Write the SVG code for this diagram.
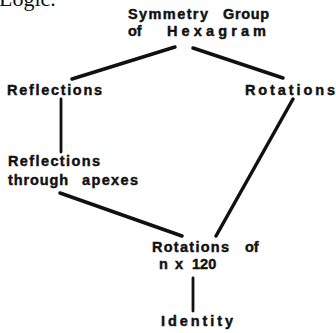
<svg xmlns="http://www.w3.org/2000/svg" width="336" height="333" viewBox="0 0 336 333">
<style>
.t{font-family:"Liberation Sans",Arial,sans-serif;font-weight:bold;font-size:14.5px;fill:#111;stroke:#111;stroke-width:0.45}
.h{font-family:"Liberation Serif","Times New Roman",serif;font-size:22px;fill:#111}
.c line{stroke:#111;stroke-linecap:round}
</style>
<rect width="336" height="333" fill="#fff"/>
<text class="h" x="-1" y="6">Logic.</text>
<g class="c" id="connectors">
<line x1="175" y1="47" x2="72" y2="79" stroke-width="3.5"/>
<line x1="193" y1="48" x2="283" y2="78" stroke-width="3.5"/>
<line x1="61" y1="99" x2="61" y2="152" stroke-width="2.8"/>
<line x1="293" y1="99" x2="216" y2="236" stroke-width="3.5"/>
<line x1="60" y1="193" x2="182" y2="236" stroke-width="3.5"/>
<line x1="193" y1="278" x2="193" y2="311" stroke-width="2.8"/>
</g>
<g id="symmetry-group">
<text class="t" x="128" y="19"><tspan textLength="80" lengthAdjust="spacing">Symmetry</tspan><tspan x="223" textLength="46" lengthAdjust="spacing">Group</tspan></text>
<text class="t" x="128" y="36"><tspan>of</tspan><tspan x="167" textLength="99" lengthAdjust="spacing">Hexagram</tspan></text>
</g>
<g id="reflections">
<text class="t" x="7" y="95" textLength="95" lengthAdjust="spacing">Reflections</text>
</g>
<g id="rotations">
<text class="t" x="245" y="95" textLength="90" lengthAdjust="spacing">Rotations</text>
</g>
<g id="reflections-apexes">
<text class="t" x="8" y="166" textLength="92" lengthAdjust="spacing">Reflections</text>
<text class="t" x="8" y="185"><tspan textLength="60" lengthAdjust="spacing">through</tspan><tspan x="82" textLength="56" lengthAdjust="spacing">apexes</tspan></text>
</g>
<g id="rotations-120">
<text class="t" x="152" y="252"><tspan textLength="77" lengthAdjust="spacing">Rotations</tspan><tspan x="245">of</tspan></text>
<text class="t" x="159" y="269"><tspan>n</tspan><tspan x="175">x</tspan><tspan x="192">120</tspan></text>
</g>
<g id="identity">
<text class="t" x="161" y="326" textLength="72" lengthAdjust="spacing">Identity</text>
</g>
</svg>
